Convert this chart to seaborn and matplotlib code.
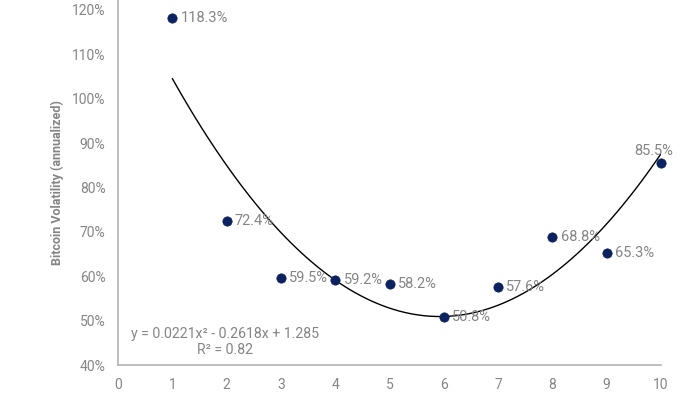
import numpy as np
import pandas as pd
import matplotlib
matplotlib.use('Agg')
import matplotlib.pyplot as plt
from matplotlib.ticker import PercentFormatter
import seaborn as sns

# values
x_vals = [1, 2, 3, 4, 5, 6, 7, 8, 9, 10]
volatility = [1.183, 0.724, 0.595, 0.592, 0.582, 0.508, 0.576, 0.688, 0.653, 0.855]
y_ticks = [0.4, 0.5, 0.6, 0.7, 0.8, 0.9, 1.0, 1.1, 1.2]
x_ticks = [0, 1, 2, 3, 4, 5, 6, 7, 8, 9, 10]
equation = 'y = 0.0221x\u00b2 - 0.2618x + 1.285'
r_squared = 'R\u00b2 = 0.82'

NAVY = '#0b2160'
GRAY_TEXT = '#858585'
SPINE = '#b3b3b3'


def main():
    sns.set_style('white')
    plt.rcParams['font.family'] = ['Roboto', 'DejaVu Sans']

    df = pd.DataFrame({'x': x_vals, 'vol': volatility})

    fig = plt.figure(figsize=(7, 3.94), dpi=100)
    ax = fig.add_axes([0.1686, 0.0736, 0.9443 - 0.1686, 1 - 0.0736])

    # quadratic trend line fitted to the points
    sns.regplot(x='x', y='vol', data=df, order=2, ci=None, scatter=False,
                line_kws=dict(color='black', lw=1), ax=ax)
    sns.scatterplot(x='x', y='vol', data=df, color=NAVY, s=45,
                    edgecolor=NAVY, linewidth=0.5, zorder=3, ax=ax,
                    clip_on=False)

    for xv, yv in zip(x_vals, volatility):
        label = f'{yv * 100:.1f}%'
        if xv == 10:
            ax.annotate(label, (xv, yv), xytext=(-5, 4),
                        textcoords='offset points', ha='center',
                        va='bottom', fontsize=10.5, color=GRAY_TEXT)
        else:
            ax.annotate(label, (xv, yv), xytext=(6, 0),
                        textcoords='offset points', ha='left',
                        va='center', fontsize=10.5, color=GRAY_TEXT)

    ax.text(1.97, 0.47, equation, ha='center', va='center',
            fontsize=10.2, color=GRAY_TEXT)
    ax.text(1.97, 0.434, r_squared, ha='center', va='center',
            fontsize=10.2, color=GRAY_TEXT)

    ax.set_xlim(0, 10)
    ax.set_ylim(0.4, 1.2225)
    ax.set_xticks(x_ticks)
    ax.set_yticks(y_ticks)
    ax.yaxis.set_major_formatter(PercentFormatter(xmax=1, decimals=0))
    ax.tick_params(axis='both', length=0, labelsize=10,
                   labelcolor=GRAY_TEXT)
    ax.tick_params(axis='y', pad=9)
    ax.tick_params(axis='x', pad=9)

    ax.set_xlabel('')
    ax.set_ylabel('Bitcoin Volatility (annualized)', fontsize=9,
                  fontweight='bold', color=GRAY_TEXT, labelpad=6)

    for side in ['top', 'right']:
        ax.spines[side].set_visible(False)
    for side in ['left', 'bottom']:
        ax.spines[side].set_color(SPINE)
        ax.spines[side].set_linewidth(1.2)

    fig.savefig('out.png', dpi=100)


if __name__ == '__main__':
    main()
